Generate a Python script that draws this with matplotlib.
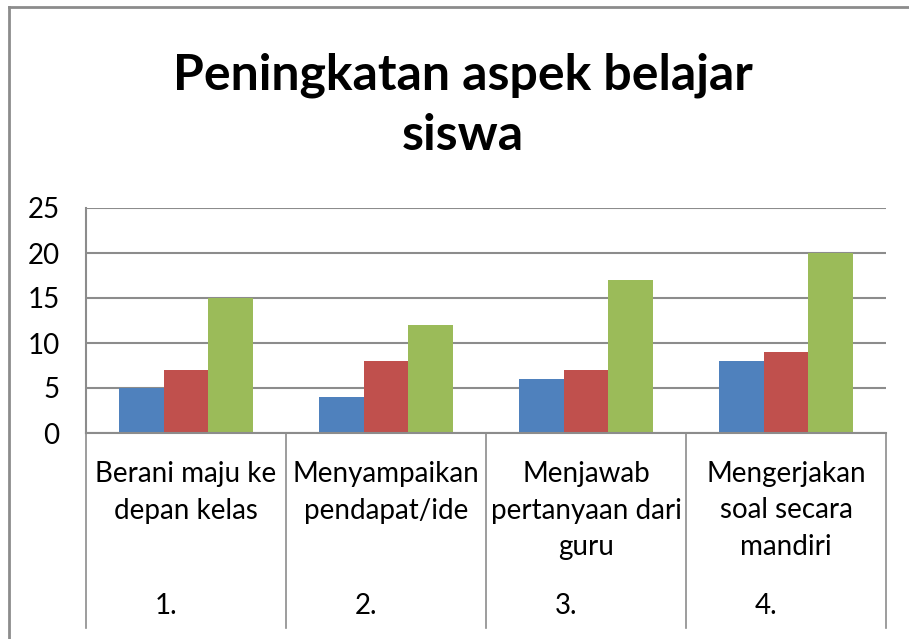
import matplotlib
matplotlib.use("Agg")
import matplotlib.pyplot as plt
import matplotlib.transforms as mtransforms
from matplotlib.lines import Line2D
import numpy as np

plt.rcParams['font.family'] = ['Lato', 'DejaVu Sans']

title_lines = ["Peningkatan aspek belajar", "siswa"]
categories = ["Berani maju ke\ndepan kelas", "Menyampaikan\npendapat/ide",
              "Menjawab\npertanyaan dari\nguru", "Mengerjakan\nsoal secara\nmandiri"]
numbers = ["1.", "2.", "3.", "4."]
series1 = [5, 4, 6, 8]
series2 = [7, 8, 7, 9]
series3 = [15, 12, 17, 20]
colors = ["#4F81BD", "#C0504D", "#9BBB59"]
yticks = [0, 5, 10, 15, 20, 25]

W, H = 909, 639
fig = plt.figure(figsize=(W / 100, H / 100), dpi=100)
fig.patch.set_facecolor("white")

# axes placement in pixels
left, right, top, bottom = 86, 886, 208, 433
ax = fig.add_axes([left / W, 1 - bottom / H, (right - left) / W, (bottom - top) / H])

n = len(categories)
x = np.arange(n) + 0.5
bw = 0.222
for i, (vals, c) in enumerate(zip([series1, series2, series3], colors)):
    ax.bar(x + (i - 1) * bw, vals, width=bw, color=c, edgecolor="none", zorder=3)

ax.set_xlim(0, n)
ax.set_ylim(0, 25)
ax.set_yticks(yticks)
ax.set_yticklabels([str(v) for v in yticks], fontsize=20)
ax.set_xticks([])
ax.tick_params(axis="y", length=0, pad=19, colors="black")
ax.grid(axis="y", color="#8C8C8C", linewidth=1.5, zorder=0)
for s in ["top", "right", "bottom"]:
    ax.spines[s].set_visible(False)
ax.spines["left"].set_color("#8C8C8C")
ax.spines["left"].set_linewidth(1.5)
ax.axhline(0, color="#8C8C8C", linewidth=1.5, zorder=4, clip_on=False)

# category separators below axis
trans = mtransforms.blended_transform_factory(ax.transData, ax.transAxes)
sep_bottom = -(628 - bottom) / (bottom - top)
for k in range(n + 1):
    ax.plot([k, k], [0, sep_bottom], transform=trans, color="#8C8C8C",
            linewidth=1.2, clip_on=False)

# category labels
lab_top = -(461 - bottom) / (bottom - top)
num_y = -(606 - bottom) / (bottom - top)
for k in range(n):
    ax.text(x[k], lab_top, categories[k], transform=trans, ha="center", va="top",
            fontsize=20, linespacing=1.5)
    ax.text(x[k] - 0.1, num_y, numbers[k], transform=trans, ha="center", va="center",
            fontsize=20)

# title
fig.text(463 / W, 1 - 90 / H, title_lines[0], ha="center", va="baseline",
         fontsize=36, fontweight="bold")
fig.text(463 / W, 1 - 150 / H, title_lines[1], ha="center", va="baseline",
         fontsize=36, fontweight="bold")

# chart border (left and top)
fig.add_artist(Line2D([9 / W, 9 / W], [0, 1 - 7 / H], color="#8C8C8C", linewidth=2))
fig.add_artist(Line2D([9 / W, 1], [1 - 7 / H, 1 - 7 / H], color="#8C8C8C", linewidth=2))

fig.savefig("out.png", dpi=100)
